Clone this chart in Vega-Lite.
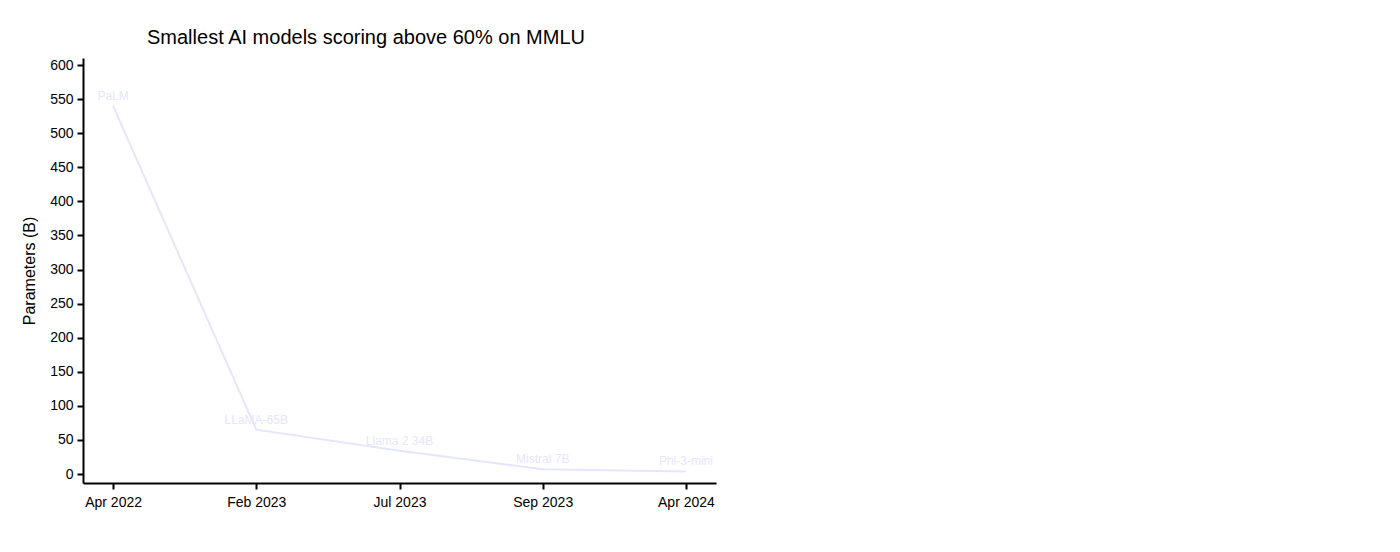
{
  "$schema": "https://vega.github.io/schema/vega-lite/v6.json",
  "width": 633,
  "height": 425,
  "autosize": {"type": "none"},
  "padding": {"left": 83, "top": 58, "right": 684, "bottom": 69},
  "background": "white",
  "title": {
    "text": "Smallest AI models scoring above 60% on MMLU",
    "anchor": "start",
    "frame": "group",
    "dx": 64,
    "offset": -6,
    "baseline": "alphabetic",
    "font": "Liberation Sans",
    "fontSize": 20,
    "fontWeight": "normal",
    "color": "#000"
  },
  "config": {
    "view": {"stroke": null},
    "axis": {
      "labelFont": "Liberation Sans",
      "titleFont": "Liberation Sans",
      "labelFontSize": 14,
      "labelColor": "#000",
      "titleColor": "#000",
      "domainColor": "#000",
      "domainWidth": 2,
      "tickColor": "#000",
      "tickWidth": 2,
      "tickSize": 6,
      "grid": false
    }
  },
  "data": {
    "values": [
      {"date": "Apr 2022", "model": "PaLM", "params": 540},
      {"date": "Feb 2023", "model": "LLaMA-65B", "params": 65},
      {"date": "Jul 2023", "model": "Llama 2 34B", "params": 34},
      {"date": "Sep 2023", "model": "Mistral 7B", "params": 7},
      {"date": "Apr 2024", "model": "Phi-3-mini", "params": 3.8}
    ]
  },
  "encoding": {
    "x": {
      "field": "date",
      "type": "ordinal",
      "sort": null,
      "scale": {"type": "point", "padding": 0.21},
      "axis": {"title": null, "labelAngle": 0, "labelPadding": 6}
    },
    "y": {
      "field": "params",
      "type": "quantitative",
      "scale": {"domain": [-13.2, 610.3], "nice": false, "zero": false},
      "axis": {
        "title": "Parameters (B)",
        "titleFontSize": 16,
        "titleFontWeight": "normal",
        "titlePadding": 12,
        "values": [0, 50, 100, 150, 200, 250, 300, 350, 400, 450, 500, 550, 600],
        "labelPadding": 4
      }
    }
  },
  "layer": [
    {
      "mark": {"type": "line", "color": "#e6e6fa", "strokeWidth": 2}
    },
    {
      "mark": {
        "type": "text",
        "color": "#e6e6fa",
        "font": "Liberation Sans",
        "fontSize": 12,
        "dy": -10,
        "align": "center"
      },
      "encoding": {"text": {"field": "model"}}
    }
  ]
}
